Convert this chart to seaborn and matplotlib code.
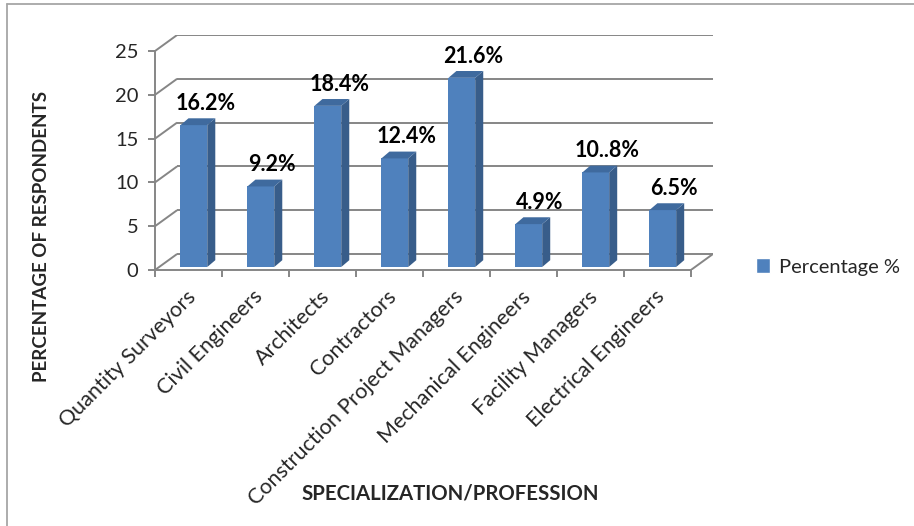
import numpy as np
import pandas as pd
import matplotlib
matplotlib.use("Agg")
import matplotlib.pyplot as plt
import matplotlib.transforms as mtransforms
from matplotlib.patches import Polygon, Patch
from matplotlib.lines import Line2D
import seaborn as sns

# ---------------- data ----------------
categories = ["Quantity Surveyors", "Civil Engineers", "Architects", "Contractors",
              "Construction Project Managers", "Mechanical Engineers",
              "Facility Managers", "Electrical Engineers"]
values = [16.2, 9.2, 18.4, 12.4, 21.6, 4.9, 10.8, 6.5]
value_labels = ["16.2%", "9.2%", "18.4%", "12.4%", "21.6%", "4.9%", "10..8%", "6.5%"]
y_ticks = [0, 5, 10, 15, 20, 25]
series_name = "Percentage %"
x_title = "SPECIALIZATION/PROFESSION"
y_title = "PERCENTAGE OF RESPONDENTS"

# ---------------- style ----------------
sns.set_theme(style="white")
plt.rcParams["font.family"] = ["Lato", "DejaVu Sans"]

FRONT = "#4F81BD"
SIDE = "#385D8A"
TOP = "#3F6A9E"
GRID = "#868686"

W, H = 914, 526
fig = plt.figure(figsize=(W / 100, H / 100), dpi=100)
left_px, right_px, bottom_px, top_px = 155, 713, 270, 35
ax = fig.add_axes([left_px / W, 1 - bottom_px / H,
                   (right_px - left_px) / W, (bottom_px - top_px) / H])

df = pd.DataFrame({"category": categories, "value": values})
sns.barplot(data=df, x="category", y="value", width=0.4, color=FRONT,
            saturation=1, ax=ax, zorder=3, linewidth=0)

n = len(categories)
DX, DY = 0.33, 1.83          # depth of the 3-D box (data units)
ax.set_xlim(-0.5, n - 0.5 + DX)
ax.set_ylim(0, max(y_ticks) + DY)

# back wall gridlines + side-wall diagonals
for v in y_ticks:
    ax.plot([-0.5, -0.5 + DX], [v, v + DY], color=GRID, lw=1.4, zorder=1,
            solid_capstyle="butt")
    ax.plot([-0.5 + DX, n - 0.5 + DX], [v + DY, v + DY], color=GRID, lw=1.4,
            zorder=1, solid_capstyle="butt")
# floor right edge
ax.plot([n - 0.5, n - 0.5 + DX], [0, DY], color=GRID, lw=1.4, zorder=1)

# 3-D bars: shift front faces into the box and add side/top faces
OX, OY = 0.08, 0.34
BX, BY = 0.12, 0.78
for p in list(ax.patches):
    x0 = p.get_x() + OX
    w = p.get_width()
    h = p.get_height()
    p.set_x(x0)
    p.set_y(OY)
    y0, y1 = OY, OY + h
    side = Polygon([(x0 + w, y0), (x0 + w + BX, y0 + BY), (x0 + w + BX, y1 + BY),
                    (x0 + w, y1)], closed=True, facecolor=SIDE, edgecolor="none",
                   zorder=3)
    top = Polygon([(x0, y1), (x0 + BX, y1 + BY), (x0 + w + BX, y1 + BY),
                   (x0 + w, y1)], closed=True, facecolor=TOP, edgecolor="none",
                  zorder=3)
    ax.add_patch(side)
    ax.add_patch(top)

# data labels
for i, (v, lab) in enumerate(zip(values, value_labels)):
    ax.text(i + 0.25, v + 2.8, lab, ha="center", va="center",
            fontsize=15.5, fontweight="bold", color="black", zorder=5)

# spines / ticks
for s in ["top", "right"]:
    ax.spines[s].set_visible(False)
ax.spines["left"].set_bounds(0, max(y_ticks))
ax.spines["bottom"].set_bounds(-0.5, n - 0.5)
for s in ["left", "bottom"]:
    ax.spines[s].set_color(GRID)
    ax.spines[s].set_linewidth(1.4)

ax.set_yticks(y_ticks)
ax.set_yticklabels([str(t) for t in y_ticks])
ax.tick_params(axis="y", direction="out", length=5, width=1.4, color=GRID,
               pad=7, labelsize=14.5, left=True)

ax.set_xticks(range(n))
ax.set_xticklabels(categories, rotation=45, ha="right", rotation_mode="anchor",
                   fontsize=15.5)
ax.set_xticks(np.arange(-0.5, n, 1.0), minor=True)
ax.tick_params(axis="x", which="major", length=0, pad=12)
ax.tick_params(axis="x", which="minor", direction="out", length=5, width=1.4,
               color=GRID, bottom=True)
shift = mtransforms.ScaledTranslation(-3 / 100, 0, fig.dpi_scale_trans)
for lbl in ax.get_xticklabels():
    lbl.set_transform(lbl.get_transform() + shift)
ax.set_xlabel("")
ax.set_ylabel("")
ax.grid(False)

# axis titles
fig.text(42 / W, 1 - 236 / H, y_title, rotation=90, ha="center", va="center",
         fontsize=13.5, fontweight="bold")
fig.text(450 / W, 1 - 493 / H, x_title, ha="center", va="center",
         fontsize=14.7, fontweight="bold")

# legend
fig.legend(handles=[Patch(facecolor=FRONT, label=series_name)],
           loc="center left", bbox_to_anchor=(738 / W, 1 - 267 / H),
           frameon=False, handlelength=0.7, handleheight=0.7,
           handletextpad=0.45, fontsize=14.5)

# chart border (top and left visible)
fig.add_artist(Line2D([7 / W, 1], [1 - 4 / H, 1 - 4 / H], transform=fig.transFigure,
                      color="#a6a6a6", lw=1.3))
fig.add_artist(Line2D([7 / W, 7 / W], [0, 1 - 4 / H], transform=fig.transFigure,
                      color="#a6a6a6", lw=1.3))

fig.savefig("out.png", dpi=100, facecolor="white")
